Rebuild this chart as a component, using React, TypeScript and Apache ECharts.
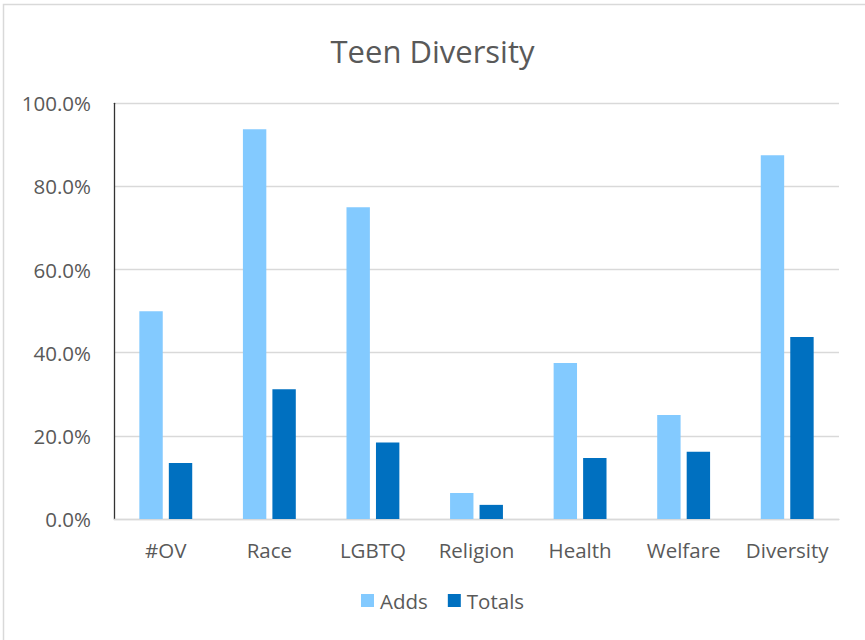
import React, { useEffect, useRef } from "react";
import * as echarts from "echarts";

const categories = ["#OV", "Race", "LGBTQ", "Religion", "Health", "Welfare", "Diversity"];
const adds = [50, 93.75, 75, 6.25, 37.5, 25, 87.5];
const totals = [13.5, 31.2, 18.4, 3.4, 14.7, 16.2, 43.8];
const yTicks = { min: 0, max: 100, interval: 20 };

const TEXT = "#595959";
const FONT = "'Open Sans', 'Noto Sans', sans-serif";

export default function App() {
  const ref = useRef<HTMLDivElement>(null);

  useEffect(() => {
    if (!ref.current) return;
    const chart = echarts.init(ref.current, undefined, { renderer: "svg" });
    chart.setOption({
      animation: false,
      backgroundColor: "#ffffff",
      textStyle: { fontFamily: FONT, color: TEXT },
      title: {
        text: "Teen Diversity",
        left: "center",
        top: 30,
        textStyle: { fontFamily: FONT, fontSize: 31, fontWeight: "normal", color: TEXT },
      },
      graphic: [
        {
          type: "rect",
          shape: { x: 3.5, y: 4.5, width: 880, height: 660 },
          style: { fill: "none", stroke: "#d9d9d9", lineWidth: 1.5 },
          silent: true,
        },
      ],
      legend: {
        bottom: 24,
        left: 356,
        itemWidth: 13,
        itemHeight: 13,
        itemGap: 20,
        icon: "rect",
        textStyle: { fontFamily: FONT, fontSize: 20.5, color: TEXT, padding: [0, 0, 0, 1] },
        data: ["Adds", "Totals"],
      },
      grid: { left: 114, right: 26, top: 103.3, bottom: 121, containLabel: false },
      xAxis: {
        type: "category",
        data: categories,
        axisLine: { show: true, lineStyle: { color: "#d9d9d9", width: 1.3 } },
        axisTick: { show: false },
        axisLabel: { fontFamily: FONT, fontSize: 20.5, color: TEXT, margin: 20, interval: 0 },
      },
      yAxis: {
        type: "value",
        min: yTicks.min,
        max: yTicks.max,
        interval: yTicks.interval,
        axisLine: { show: true, lineStyle: { color: "#333333", width: 1.3 } },
        axisTick: { show: false },
        splitLine: { lineStyle: { color: "#d9d9d9", width: 1.3 } },
        axisLabel: {
          fontFamily: FONT,
          fontSize: 20.5,
          color: TEXT,
          margin: 23,
          formatter: (v: number) => `${v.toFixed(1)}%`,
        },
      },
      series: [
        {
          name: "Adds",
          type: "bar",
          data: adds,
          barWidth: 23.4,
          barGap: "26%",
          itemStyle: { color: "#83caff" },
        },
        {
          name: "Totals",
          type: "bar",
          data: totals,
          barWidth: 23.4,
          itemStyle: { color: "#0070c0" },
        },
      ],
    });
    return () => chart.dispose();
  }, []);

  return (
    <div
      ref={ref}
      style={{ position: "fixed", left: 0, top: 0, width: 865, height: 640 }}
    />
  );
}
